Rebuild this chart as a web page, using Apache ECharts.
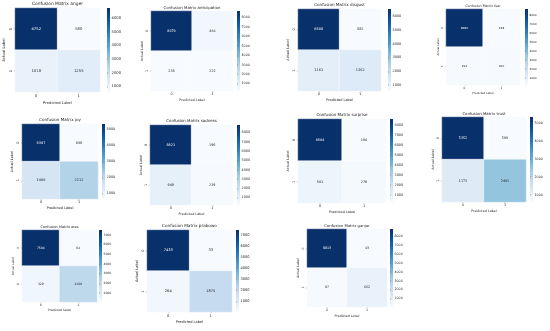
<!DOCTYPE html>
<html><head><meta charset="utf-8">
<script src="https://cdn.jsdelivr.net/npm/echarts@6/dist/echarts.min.js"></script>
<style>html,body{margin:0;padding:0;background:#fff}#c{width:550px;height:331px}</style>
</head><body><div id="c"></div>
<script>
// ---- data ----
const classes = ['0', '1'];
const panelNames = ['anger','anticipation','disgust','fear','joy','sadness','surprise','trust','ares','prabowo','ganjar'];
const anger        = [[6752, 580], [1018, 1255]];
const anticipation = [[8679, 466], [238, 222]];
const disgust      = [[6500, 582], [1161, 1362]];
const fear         = [[8695, 238], [292, 300]];
const joy          = [[5347, 658], [1466, 2112]];
const sadness      = [[8821, 196], [949, 239]];
const surprise     = [[8584, 164], [581, 276]];
const trust        = [[5352, 589], [1173, 2491]];
const ares         = [[7504, 64], [329, 2108]];
const prabowo      = [[7433, 33], [264, 1875]];
const ganjar       = [[8813, 43], [87, 662]];
const matrices = [anger, anticipation, disgust, fear, joy, sadness, surprise, trust, ares, prabowo, ganjar];
const cbTicks = [
  [1000,2000,3000,4000,5000,6000],
  [1000,2000,3000,4000,5000,6000,7000,8000],
  [1000,2000,3000,4000,5000,6000],
  [1000,2000,3000,4000,5000,6000,7000,8000],
  [1000,2000,3000,4000,5000],
  [1000,2000,3000,4000,5000,6000,7000,8000],
  [1000,2000,3000,4000,5000,6000,7000,8000],
  [1000,2000,3000,4000,5000],
  [1000,2000,3000,4000,5000,6000,7000],
  [1000,2000,3000,4000,5000,6000,7000],
  [1000,2000,3000,4000,5000,6000,7000,8000]
];

// ---- layout (x0, y0, x1, y1, colorbar x0, colorbar x1, title font size) ----
const layout = [
  [15, 8, 100, 92, 107, 110, 4.4],
  [151, 11, 233, 91, 237, 240, 3.9],
  [298, 9, 381, 91, 388, 391, 4.1],
  [446, 9, 520, 85, 525, 528, 3.3],
  [22, 124, 98, 199, 102, 105, 4.1],
  [150, 125, 233, 205, 237, 240, 3.95],
  [298, 119, 386, 203, 390, 393, 4.0],
  [442, 117, 526, 202, 530, 533, 3.9],
  [22, 230, 97, 302, 99, 102, 3.5],
  [147, 230, 232, 312, 236, 239, 4.2],
  [307, 229, 387, 307, 390, 393, 3.8]
];

const blues = ['#f7fbff','#deebf7','#c6dbef','#9ecae1','#6baed6','#4292c6','#2171b5','#08519c','#08306b'];
const FONT = 'DejaVu Sans';
const TXT = '#262626';

const chart = echarts.init(document.getElementById('c'), null, {renderer: 'canvas'});
const grid = [], xAxis = [], yAxis = [], series = [], visualMap = [], title = [];

matrices.forEach((m, i) => {
  const [x0, y0, x1, y1, c0, c1, s] = layout[i];
  const f = s * 0.85;
  const flat = m.flat();
  const vmin = Math.min(...flat), vmax = Math.max(...flat);
  const gi = grid.length;
  grid.push({left: x0, top: y0, width: x1 - x0, height: y1 - y0, show: false});
  xAxis.push({
    type: 'category', data: classes, gridIndex: gi, position: 'bottom',
    name: 'Predicted Label', nameLocation: 'middle', nameGap: 2.4 * s - f / 2,
    nameTextStyle: {fontSize: f, color: TXT, fontFamily: FONT},
    axisLine: {show: false}, splitLine: {show: false},
    axisTick: {show: true, alignWithLabel: true, length: 1.2, lineStyle: {color: '#333', width: 0.4}},
    axisLabel: {fontSize: f, color: TXT, fontFamily: FONT, margin: 2}
  });
  yAxis.push({
    type: 'category', data: classes, gridIndex: gi, inverse: true,
    name: 'Actual Label', nameLocation: 'middle', nameGap: 2.4 * s - f / 2, nameRotate: 90,
    nameTextStyle: {fontSize: f, color: TXT, fontFamily: FONT},
    axisLine: {show: false}, splitLine: {show: false},
    axisTick: {show: true, alignWithLabel: true, length: 1.2, lineStyle: {color: '#333', width: 0.4}},
    axisLabel: {fontSize: f, color: TXT, fontFamily: FONT, margin: 2, rotate: 90}
  });
  const data = [];
  m.forEach((row, r) => row.forEach((v, c) => {
    const t = (v - vmin) / (vmax - vmin);
    data.push({value: [c, r, v], label: {color: t > 0.55 ? '#ffffff' : TXT}});
  }));
  const si = series.length;
  series.push({
    type: 'heatmap', xAxisIndex: gi, yAxisIndex: gi, data: data,
    label: {show: true, fontSize: f, fontFamily: FONT, formatter: p => String(p.value[2])},
    itemStyle: {borderColor: '#ffffff', borderWidth: 0.4},
    emphasis: {disabled: true}
  });
  visualMap.push({type: 'continuous', show: false, seriesIndex: si, dimension: 2, min: vmin, max: vmax, inRange: {color: blues}});
  title.push({
    text: 'Confusion Matrix ' + panelNames[i], left: (x0 + x1) / 2, top: y0 - 1.4 * s, textAlign: 'center', padding: 0,
    textStyle: {fontSize: s, fontWeight: 'normal', color: TXT, fontFamily: FONT}
  });
  // colorbar
  const gj = grid.length;
  const stops = blues.map((col, k) => ({offset: k / (blues.length - 1), color: col}));
  grid.push({left: c0, top: y0, width: c1 - c0, height: y1 - y0, show: true, borderWidth: 0,
    backgroundColor: new echarts.graphic.LinearGradient(0, 1, 0, 0, stops)});
  xAxis.push({type: 'value', gridIndex: gj, show: false, min: 0, max: 1});
  yAxis.push({
    type: 'value', gridIndex: gj, position: 'right', min: vmin, max: vmax,
    axisLine: {show: false}, splitLine: {show: false},
    axisTick: {show: true, length: 1, customValues: cbTicks[i], lineStyle: {color: '#333', width: 0.4}},
    axisLabel: {fontSize: f, color: TXT, fontFamily: FONT, margin: 1.5, customValues: cbTicks[i], formatter: v => String(v)}
  });
  series.push({type: 'line', xAxisIndex: gj, yAxisIndex: gj, data: [], silent: true});
});

chart.setOption({
  backgroundColor: '#ffffff', animation: false,
  title, grid, xAxis, yAxis, visualMap, series
});
</script>
</body></html>
